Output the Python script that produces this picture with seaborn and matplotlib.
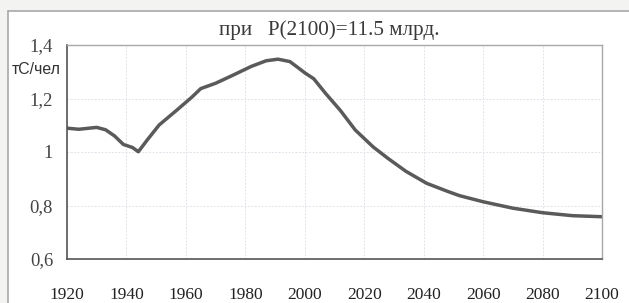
import matplotlib
matplotlib.use("Agg")
import matplotlib.pyplot as plt
import seaborn as sns
import pandas as pd
from matplotlib.patches import Rectangle
from matplotlib.lines import Line2D

years = [1920, 1924, 1930, 1933, 1936, 1939, 1942, 1944, 1947, 1951, 1957, 1962,
         1965, 1970, 1976, 1982, 1987, 1991, 1995, 1998, 2000, 2003, 2007, 2012,
         2017, 2023, 2028, 2034, 2041, 2048, 2052, 2060, 2070, 2080, 2090, 2100]
values = [1.089, 1.085, 1.092, 1.083, 1.060, 1.028, 1.017, 1.001, 1.045, 1.101,
          1.157, 1.205, 1.237, 1.257, 1.288, 1.320, 1.341, 1.347, 1.338, 1.313,
          1.296, 1.274, 1.219, 1.155, 1.082, 1.019, 0.976, 0.928, 0.883, 0.853,
          0.837, 0.814, 0.790, 0.773, 0.762, 0.758]
xticks = [1920, 1940, 1960, 1980, 2000, 2020, 2040, 2060, 2080, 2100]
yticks = [0.6, 0.8, 1.0, 1.2, 1.4]
ytick_labels = ["0,6", "0,8", "1", "1,2", "1,4"]
title = "при   P(2100)=11.5 млрд."
ylabel = "тС/чел"

sns.set_theme(style="white")
plt.rcParams['font.family'] = ['Liberation Serif', 'DejaVu Serif']

df = pd.DataFrame({"year": years, "value": values})

fig = plt.figure(figsize=(6.29, 3.03), dpi=100)
fig.patch.set_facecolor("#f3f3f1")
ax = fig.add_axes([67/629, 1-259/303, (602-67)/629, (259-45)/303])
ax.set_facecolor("white")

fig.patches.append(Rectangle((8/629, 0), 1, 1-11/303, transform=fig.transFigure,
                             facecolor="white", edgecolor="none", zorder=-10))
fig.lines.append(Line2D([8/629, 8/629], [0, 1-11/303], transform=fig.transFigure,
                        color="#a8a8a8", lw=1.2))
fig.lines.append(Line2D([8/629, 1], [1-11/303, 1-11/303], transform=fig.transFigure,
                        color="#a8a8a8", lw=1.2))

sns.lineplot(data=df, x="year", y="value", ax=ax, color="#5a5a5a", lw=2.5)

ax.set_xlim(1920, 2100)
ax.set_ylim(0.6, 1.4)
ax.set_xticks(xticks)
ax.set_xticklabels([str(t) for t in xticks], fontsize=12.5, color="#222222")
ax.set_yticks(yticks)
ax.set_yticklabels(ytick_labels, fontsize=13.5, color="#444444")
ax.tick_params(axis="x", direction="out", length=5, width=1, color="#555555", pad=15)
ax.tick_params(axis="y", direction="out", length=5, width=1, color="#555555", pad=5)
ax.grid(True, color="#e2e2ea", lw=0.7, ls=(0, (2, 1.5)))
ax.set_xlabel("")
ax.set_ylabel("")

for s in ["top", "right"]:
    ax.spines[s].set_color("#a8a8a8")
    ax.spines[s].set_linewidth(1.0)
    ax.spines[s].set_visible(True)
for s in ["left", "bottom"]:
    ax.spines[s].set_color("#555555")
    ax.spines[s].set_linewidth(1.2)
    ax.spines[s].set_visible(True)

fig.text(329/629, 1-30/303, title, ha="center", va="center", fontsize=15.2,
         color="#3a3a3a", family=['Liberation Serif', 'DejaVu Serif'])
fig.text(36/629, 1-70/303, ylabel, ha="center", va="center", fontsize=11.4,
         color="#333333", family=['Liberation Sans', 'DejaVu Sans'])

fig.savefig("out.png", dpi=100, facecolor=fig.get_facecolor())
